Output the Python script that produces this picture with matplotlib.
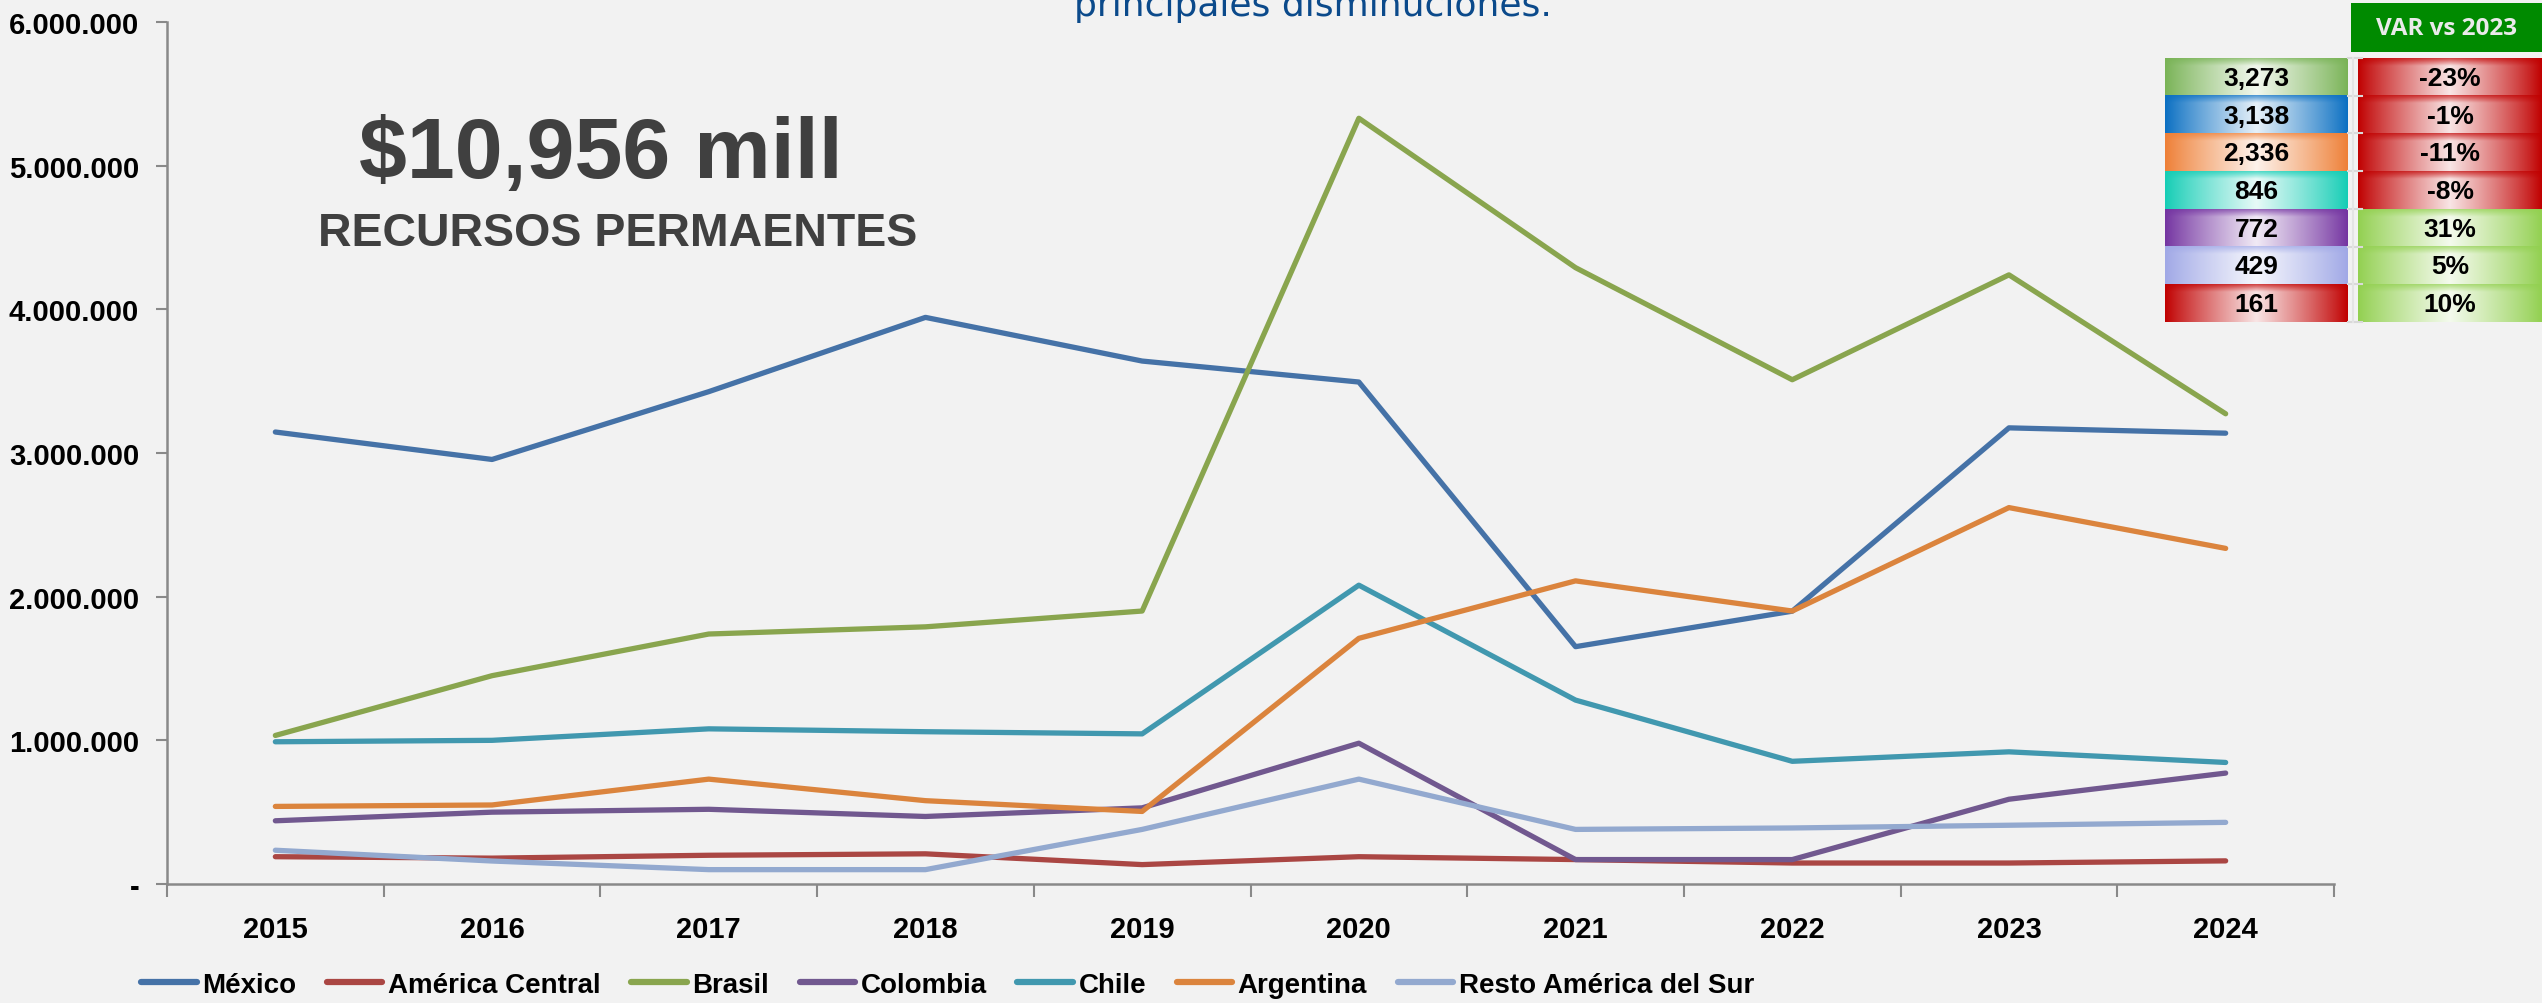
import numpy as np
import matplotlib
matplotlib.use("Agg")
import matplotlib.pyplot as plt
from matplotlib.lines import Line2D
from matplotlib.colors import to_rgb

# data (USD)
years = ['2015', '2016', '2017', '2018', '2019', '2020', '2021', '2022', '2023', '2024']
mexico = [3146000, 2955000, 3427000, 3944000, 3640000, 3494000, 1652000, 1899000, 3175000, 3138000]
am_central = [190000, 180000, 200000, 210000, 135000, 190000, 170000, 146000, 146000, 161000]
brasil = [1034000, 1450000, 1740000, 1790000, 1900000, 5330000, 4290000, 3510000, 4240000, 3273000]
colombia = [440000, 500000, 520000, 470000, 530000, 980000, 170000, 170000, 590000, 772000]
chile = [990000, 1000000, 1080000, 1060000, 1045000, 2080000, 1280000, 854000, 920000, 846000]
argentina = [540000, 550000, 730000, 580000, 505000, 1710000, 2110000, 1900000, 2620000, 2336000]
resto = [235000, 160000, 100000, 100000, 380000, 730000, 380000, 390000, 409000, 429000]

series_names = ['México', 'América Central', 'Brasil', 'Colombia', 'Chile', 'Argentina',
                'Resto América del Sur']
series_vals = [mexico, am_central, brasil, colombia, chile, argentina, resto]
series_colors = ['#4572A7', '#AA4643', '#89A54E', '#71588F', '#4198AF', '#DB843D', '#93A9CF']

# side table: 2024 value (thousands) and change vs 2023
tbl_vals = ['3,273', '3,138', '2,336', '846', '772', '429', '161']
tbl_cols = ['#79B356', '#0A6FC2', '#EE7F36', '#14CDB5', '#7434A1', '#A0A8E6', '#C00000']
tbl_var = ['-23%', '-1%', '-11%', '-8%', '31%', '5%', '10%']

NARROW = ['Liberation Sans Narrow', 'Liberation Sans', 'DejaVu Sans']
BOLD = ['Liberation Sans', 'DejaVu Sans']

W, H = 2542, 1004
fig = plt.figure(figsize=(W / 100, H / 100), dpi=100)
fig.patch.set_facecolor('#F2F2F2')

ax = fig.add_axes([167 / W, 1 - 885 / H, (2334 - 167) / W, (885 - 23) / H])
ax.set_facecolor('none')
x = np.arange(len(years))
for name, vals, col in zip(series_names, series_vals, series_colors):
    ax.plot(x, vals, color=col, lw=3.8, solid_joinstyle='round', solid_capstyle='round', label=name)

ax.set_xlim(-0.5, len(years) - 0.5)
ax.set_ylim(0, 6000000)
ax.set_xticks(np.arange(-0.5, len(years)))
ax.set_xticklabels([])
ax.set_xticks(x, minor=True)
ax.set_xticklabels(years, minor=True)
ax.tick_params(axis='x', which='major', length=9, width=1.5, color='#898989', direction='out')
ax.tick_params(axis='x', which='minor', length=0, pad=22)
yt = np.arange(0, 6000001, 1000000)
ax.set_yticks(yt)
ax.set_yticklabels(['-'] + [f'{v:,.0f}'.replace(',', '.') for v in yt[1:]])
ax.tick_params(axis='y', length=8, width=1.5, color='#898989', direction='out', pad=12)
for lab in ax.get_xticklabels(minor=True) + ax.get_yticklabels():
    lab.set_family(NARROW)
    lab.set_fontweight('bold')
    lab.set_fontsize(21)
for s in ['top', 'right']:
    ax.spines[s].set_visible(False)
for s in ['left', 'bottom']:
    ax.spines[s].set_color('#898989')
    ax.spines[s].set_linewidth(1.8)

handles = [Line2D([], [], color=c, lw=4.5, solid_capstyle='round') for c in series_colors]
fig.legend(handles, series_names, ncol=7, loc='center left', bbox_to_anchor=(141 / W, 1 - 986 / H),
           frameon=False, handlelength=2.0, handletextpad=0.2, columnspacing=1.1,
           borderpad=0, borderaxespad=0, prop={'family': NARROW, 'weight': 'bold', 'size': 20})

# overlay in pixel coordinates for texts and the side table
ov = fig.add_axes([0, 0, 1, 1], zorder=5)
ov.set_facecolor('none')
ov.axis('off')

ov.text(1313, 16, 'principales disminuciones.', color='#0B4A8B', fontsize=26,
        family='DejaVu Sans', ha='center', va='baseline')
ov.text(601, 156, '$10,956 mill', color='#404040', fontsize=62, fontweight='bold',
        family=NARROW, ha='center', va='center')
ov.text(618, 234, 'RECURSOS PERMAENTES', color='#404040', fontsize=33.5, fontweight='bold',
        family=NARROW, ha='center', va='center')


def glossy(c, n=60):
    c = np.array(to_rgb(c))
    u = np.linspace(0, 1, 200)
    v = np.linspace(0, 1, n)
    h = (1 - np.abs(2 * u - 1)) ** 0.9
    top = np.clip(1 - v / 0.2, 0, 1)
    w = 0.9 * h[None, :] * (1 - 0.7 * top[:, None])
    return c[None, None, :] + (1 - c[None, None, :]) * w[..., None]


# header
ov.add_patch(plt.Rectangle((2351, 4), W - 2351, 49, color='#008A00', lw=0))
ov.text((2351 + W) / 2, 29, 'VAR vs 2023', color='#EAEAEA', fontsize=17.5, fontweight='bold',
        family=['Open Sans', 'DejaVu Sans'], ha='center', va='center')

row_top, row_h = 59, 37.7
lx0, lx1 = 2165, 2348
rx0, rx1 = 2358, W
for i, (val, col, var) in enumerate(zip(tbl_vals, tbl_cols, tbl_var)):
    y0 = row_top + i * row_h
    y1 = y0 + row_h
    ov.imshow(glossy(col), extent=(lx0, lx1, y1, y0), aspect='auto', interpolation='bilinear')
    vcol = '#C00000' if var.startswith('-') else '#92D050'
    ov.imshow(glossy(vcol), extent=(rx0, rx1, y1, y0), aspect='auto', interpolation='bilinear')
    ov.text((lx0 + lx1) / 2, (y0 + y1) / 2 + 1, val, fontsize=19, fontweight='bold',
            family=BOLD, ha='center', va='center', color='black')
    ov.text((rx0 + rx1) / 2, (y0 + y1) / 2 + 1, var, fontsize=19, fontweight='bold',
            family=BOLD, ha='center', va='center', color='black')
    ov.plot([2348, 2362], [y0, y0], color='#D9D9D9', lw=1.5)
ov.plot([2348, 2362], [row_top + 7 * row_h] * 2, color='#D9D9D9', lw=1.5)
ov.plot([2353, 2353], [row_top, row_top + 7 * row_h], color='#E4E4E4', lw=1.5)

ov.set_xlim(0, W)
ov.set_ylim(H, 0)

fig.savefig('out.png', dpi=100, facecolor=fig.get_facecolor())
